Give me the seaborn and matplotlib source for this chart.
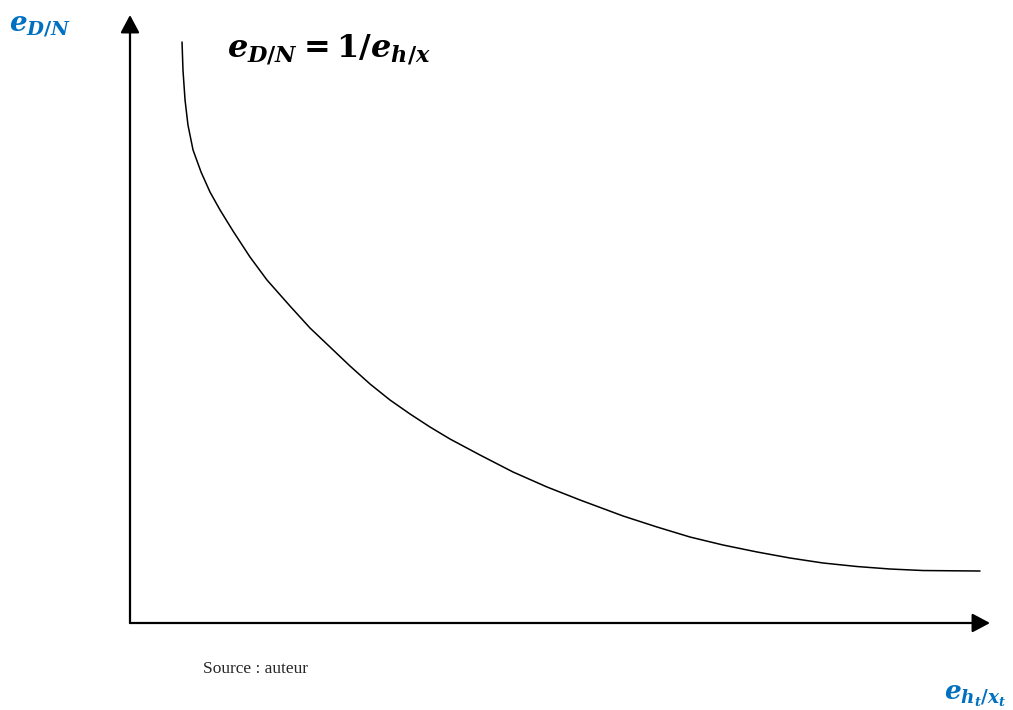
import matplotlib
matplotlib.use("Agg")
import matplotlib.pyplot as plt
import seaborn as sns
import pandas as pd

sns.set_style("white")
plt.rcParams["mathtext.fontset"] = "custom"
plt.rcParams["mathtext.rm"] = "DejaVu Serif:bold"
plt.rcParams["mathtext.it"] = "DejaVu Serif:bold:italic"
plt.rcParams["mathtext.bf"] = "DejaVu Serif:bold"

# courbe (unités arbitraires, 0-100 sur chaque axe)
e_ht_xt = [6.05, 6.16, 6.40, 6.74, 7.33, 8.26, 9.30, 10.47, 11.98, 13.95, 15.93, 18.60,
           20.93, 23.26, 25.58, 27.91, 30.23, 32.56, 34.88, 37.21, 40.70, 44.53, 48.49,
           52.33, 57.33, 61.28, 65.12, 68.95, 72.91, 76.74, 80.58, 84.53, 88.37, 92.21, 98.84]
e_dn = [95.56, 90.95, 86.02, 81.91, 77.80, 74.18, 70.89, 67.93, 64.47, 60.20, 56.41, 52.14,
        48.52, 45.39, 42.27, 39.31, 36.68, 34.38, 32.24, 30.26, 27.63, 24.84, 22.37,
        20.23, 17.60, 15.79, 14.14, 12.83, 11.68, 10.69, 9.87, 9.29, 8.88, 8.63, 8.55]
df = pd.DataFrame({"e_ht_xt": e_ht_xt, "e_dn": e_dn})

fig = plt.figure(figsize=(10.13, 7.10), dpi=100)
ax = fig.add_axes([130 / 1013, 87 / 710, 860 / 1013, 608 / 710])
sns.lineplot(data=df, x="e_ht_xt", y="e_dn", color="black", linewidth=1.1, sort=False, ax=ax)
ax.set_xlim(0, 100)
ax.set_ylim(0, 100)
ax.set_xticks([])
ax.set_yticks([])
ax.set_xlabel("")
ax.set_ylabel("")
for s in ax.spines.values():
    s.set_visible(False)

# axes avec flèches
arrow = dict(arrowstyle="-|>,head_length=0.6,head_width=0.32", color="black",
             lw=1.6, mutation_scale=18, shrinkA=0, shrinkB=0)
ax.annotate("", xy=(1, 0), xytext=(0, 0), xycoords="axes fraction", arrowprops=arrow)
ax.annotate("", xy=(0, 1), xytext=(0, 0), xycoords="axes fraction", arrowprops=arrow)

blue = "#0070c0"
fig.text(9 / 1013, 1 - 32 / 710, r"$e_{D/N}$", color=blue, fontsize=20, va="baseline")
fig.text(227 / 1013, 1 - 57 / 710, r"$e_{D/N}=\mathrm{1}/e_{h/x}$", color="black", fontsize=23, va="baseline")
fig.text(944 / 1013, 1 - 700 / 710, r"$e_{h_t/x_t}$", color=blue, fontsize=19, va="baseline")
fig.text(203 / 1013, 1 - 673 / 710, "Source : auteur", family="Liberation Serif", fontsize=12.5, va="baseline")

fig.savefig("out.png", dpi=100)
